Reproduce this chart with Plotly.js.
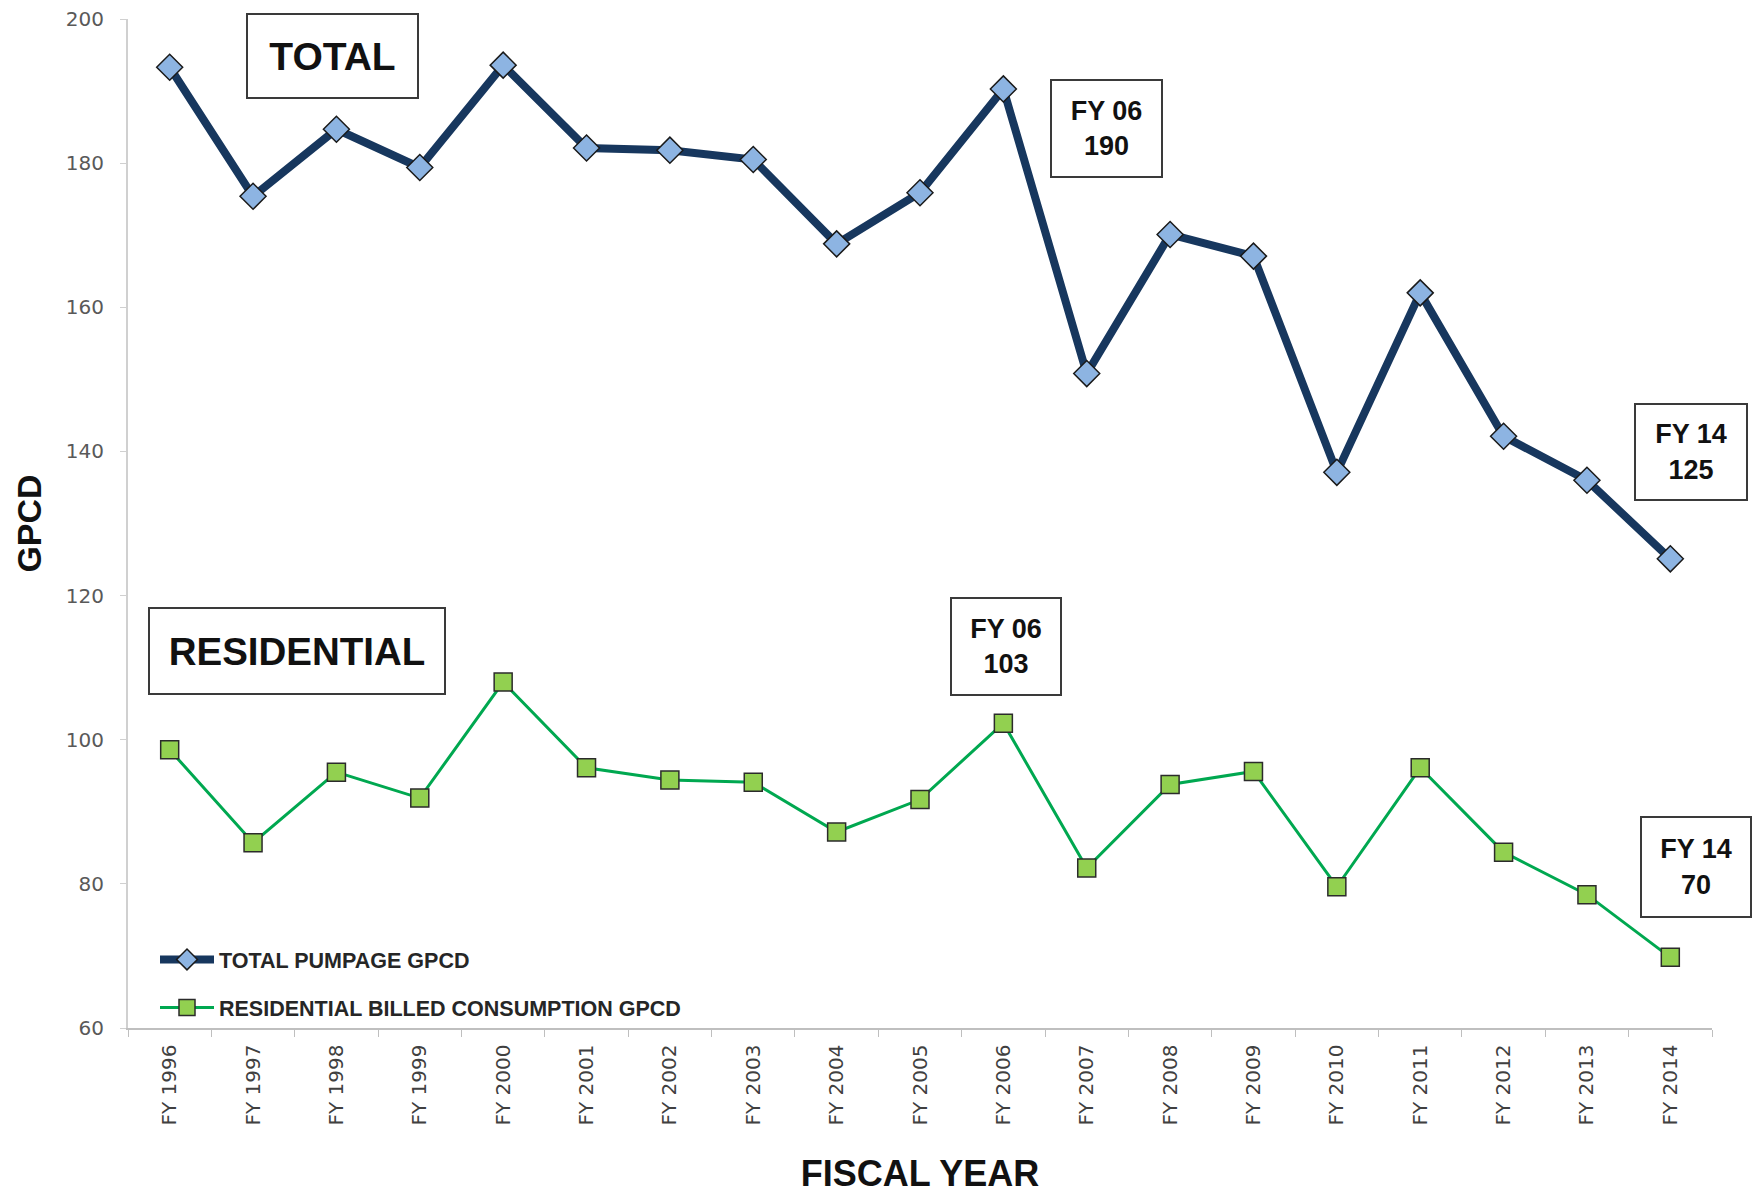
<!DOCTYPE html>
<html>
<head>
<meta charset="utf-8">
<script src="https://cdn.plot.ly/plotly-3.0.1.min.js"></script>
<style>
  html, body { margin: 0; padding: 0; background: #ffffff; }
  #chart { width: 1760px; height: 1199px; }
</style>
</head>
<body>
<div id="chart"></div>
<script>
// ---- data ----
const fiscalYears = ["FY 1996","FY 1997","FY 1998","FY 1999","FY 2000","FY 2001","FY 2002",
  "FY 2003","FY 2004","FY 2005","FY 2006","FY 2007","FY 2008","FY 2009","FY 2010",
  "FY 2011","FY 2012","FY 2013","FY 2014"];
const totalPumpageGPCD = [193.3,175.4,184.7,179.4,193.6,182.1,181.8,180.5,168.8,175.9,
  190.3,150.8,170.1,167.1,137.1,162.0,142.1,136.0,125.1];
const residentialBilledGPCD = [98.6,85.7,95.5,91.9,108.0,96.1,94.4,94.1,87.2,91.7,
  102.3,82.2,93.8,95.6,79.6,96.1,84.4,78.5,69.8];
const seriesNames = ["TOTAL PUMPAGE GPCD", "RESIDENTIAL BILLED CONSUMPTION GPCD"];
const yTickValues = [60, 80, 100, 120, 140, 160, 180, 200];
const calloutTexts = ["TOTAL", "RESIDENTIAL", "FY 06<br>190", "FY 14<br>125", "FY 06<br>103", "FY 14<br>70"];

// ---- layout helpers ----
const FONT = "'Liberation Sans', Arial, sans-serif";
const TICKFONT = "'DejaVu Sans', 'Liberation Sans', sans-serif";
const W = 1760, H = 1199;
const M = {l: 128, r: 48, t: 19, b: 171};
const PW = W - M.l - M.r, PH = H - M.t - M.b;
const px2x = px => (px - M.l) / PW;
const px2y = py => (H - M.b - py) / PH;

function box(text, cx, cy, w, h, size) {
  return {
    text: "<b>" + text + "</b>",
    xref: "paper", yref: "paper",
    x: px2x(cx), y: px2y(cy),
    xanchor: "center", yanchor: "middle",
    showarrow: false,
    width: w - 4, height: h - 4,
    align: "center", valign: "middle",
    bordercolor: "#3a3a3a", borderwidth: 2, borderpad: 0,
    bgcolor: "#ffffff",
    font: {family: FONT, size: size, color: "#111111"}
  };
}

const traces = [
  {
    type: "scatter", mode: "lines+markers",
    x: fiscalYears, y: totalPumpageGPCD,
    name: seriesNames[0], legendgroup: "a",
    line: {color: "#17375E", width: 8},
    marker: {symbol: "diamond", size: 20, color: "#8DB4E2",
             line: {color: "#1a1a1a", width: 1.5}}
  },
  {
    type: "scatter", mode: "lines+markers",
    x: fiscalYears, y: residentialBilledGPCD,
    name: seriesNames[1], legendgroup: "b",
    line: {color: "#00A850", width: 3},
    marker: {symbol: "square", size: 18, color: "#92D050",
             line: {color: "#2b2b2b", width: 1.5}}
  }
];

const layout = {
  width: W, height: H,
  margin: M,
  paper_bgcolor: "#ffffff", plot_bgcolor: "#ffffff",
  showlegend: true,
  legend: {
    x: px2x(155), y: px2y(1028), xanchor: "left", yanchor: "bottom",
    bgcolor: "rgba(0,0,0,0)",
    traceorder: "grouped", tracegroupgap: 17,
    itemwidth: 54,
    font: {family: FONT, size: 21.5, color: "#262626", weight: "bold"}
  },
  xaxis: {
    type: "category",
    range: [-0.5, fiscalYears.length - 0.5],
    showline: true, linecolor: "#bfbfbf", linewidth: 1.5,
    ticks: "outside", tickson: "boundaries", ticklen: 7, tickcolor: "#bfbfbf",
    tickangle: -90,
    tickfont: {family: TICKFONT, size: 20, color: "#404040"},
    ticklabelstandoff: 7,
    showgrid: false, zeroline: false,
    title: {text: "<b>FISCAL YEAR</b>", font: {family: FONT, size: 36, color: "#111111"}, standoff: 36}
  },
  yaxis: {
    range: [60, 200],
    tickvals: yTickValues,
    showline: true, linecolor: "#d0d0d0", linewidth: 2,
    ticks: "outside", ticklen: 6, tickcolor: "#d0d0d0",
    tickfont: {family: TICKFONT, size: 20, color: "#595959"},
    ticklabelstandoff: 12,
    showgrid: false, zeroline: false,
    title: {text: "<b>GPCD</b>", font: {family: FONT, size: 34, color: "#111111"}, standoff: 14}
  },
  annotations: [
    box(calloutTexts[0], 332, 56, 173, 86, 39),
    box(calloutTexts[1], 297, 651, 298, 88, 38.5),
    box(calloutTexts[2], 1106, 128, 113, 99, 27),
    box(calloutTexts[3], 1691, 452, 114, 98, 27),
    box(calloutTexts[4], 1006, 646, 112, 99, 27),
    box(calloutTexts[5], 1696, 867, 112, 102, 27)
  ]
};

Plotly.newPlot("chart", traces, layout, {displayModeBar: false, staticPlot: true});
</script>
</body>
</html>
